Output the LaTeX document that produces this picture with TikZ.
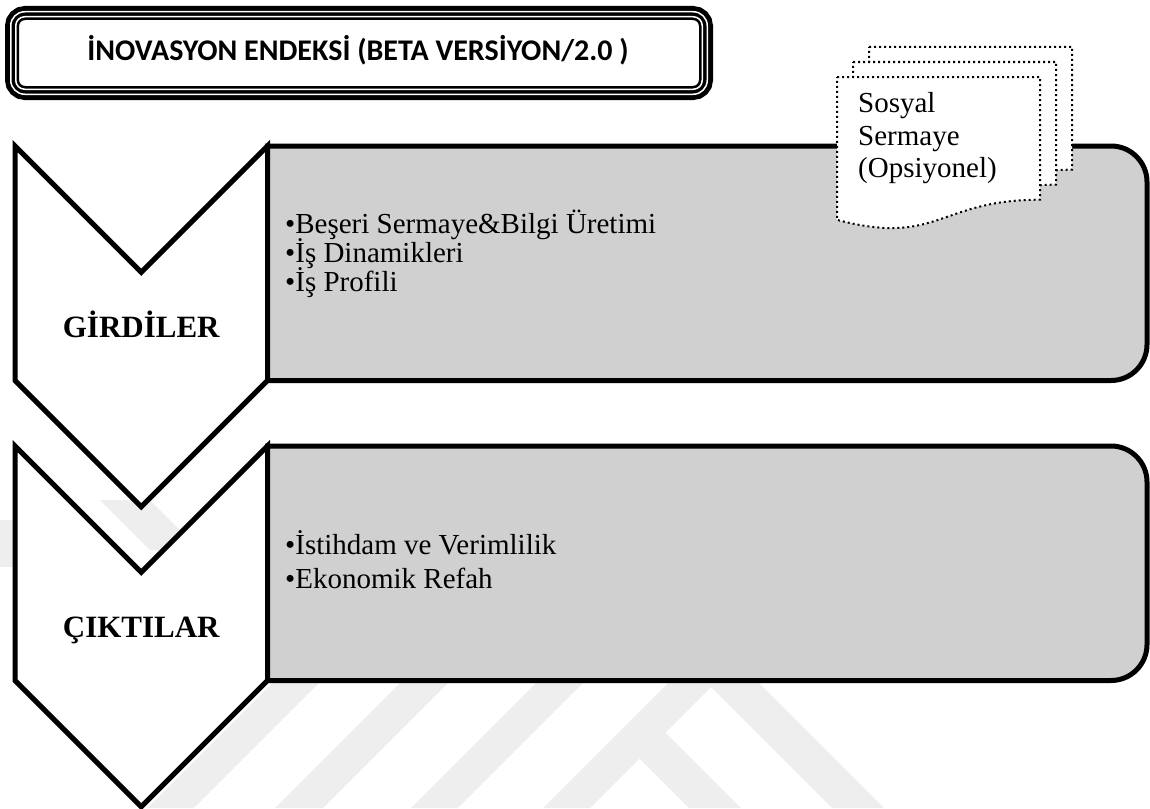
\documentclass[tikz,border=0pt]{standalone}
\usepackage{fontspec}
\setmainfont{Liberation Serif}
\newfontfamily\titlefont{Carlito}
\definecolor{boxgray}{RGB}{208,208,208}
\definecolor{markgray}{RGB}{238,238,238}
\begin{document}
\begin{tikzpicture}[x=1pt,y=-1pt,
  chevron/.style={draw=black, fill=white, line width=5pt},
  panel/.style={draw=black, fill=boxgray, line width=5pt},
  docline/.style={draw=black, fill=white, line width=2pt, dash pattern=on 2pt off 3pt},
  wmark/.style={fill=markgray},
  itemtext/.style={font=\fontsize{29}{29}\selectfont, anchor=base west, inner sep=0pt},
  doctext/.style={font=\fontsize{29}{29}\selectfont, anchor=base west, inner sep=0pt},
  steplabel/.style={font=\fontsize{31}{31}\selectfont\bfseries, anchor=base, inner sep=0pt},
  titletext/.style={font=\titlefont\fontsize{30}{30}\selectfont\bfseries, anchor=base, inner sep=0pt}]
\useasboundingbox (0,0) rectangle (1150,808);

% faint background emblem
\fill[wmark] (147,808) -- (194,808) -- (394,608) -- (347,608) -- cycle;
\fill[wmark] (275,808) -- (323,808) -- (523,608) -- (475,608) -- cycle;
\fill[wmark] (411,808) -- (458,808) -- (658,608) -- (611,608) -- cycle;
\fill[wmark] (543,808) -- (713.5,637.5) -- (884,808) -- (832,808) -- (711,687) -- (590,808) -- cycle;
\fill[wmark] (665.5,732.5) -- (741,808) -- (689,808) -- (639.5,758.5) -- cycle;
\fill[wmark] (100,500) -- (150,500) -- (200,550) -- (150,550) -- cycle;
\fill[wmark] (0,520) -- (25,520) -- (25,567) -- (0,567) -- cycle;

% title frame: thick band split by two thin white lines
\draw[line width=14pt, rounded corners=13] (12,13) rectangle (706,93);
\draw[white, line width=1.5pt, rounded corners=14] (10.75,11.75) rectangle (707.25,94.25);
\draw[white, line width=1.5pt, rounded corners=9] (15.75,16.75) rectangle (702.25,89.25);
\node[titletext] (title) at (358,60) {İNOVASYON ENDEKSİ (BETA VERSİYON/2.0 )};

% step chevrons
\draw[chevron] (15,146) -- (141.25,272.25) -- (267.5,146) -- (267.5,380.5) -- (141.25,506.75) -- (15,380.5) -- cycle;
\draw[chevron] (15,446) -- (141.25,572.25) -- (267.5,446) -- (267.5,680.5) -- (141.25,806.75) -- (15,680.5) -- cycle;

% content panels, rounded on the right
\draw[panel] (267.5,380.5) -- (267.5,146) -- (1111,146)
  .. controls (1130.88,146) and (1147,162.12) .. (1147,182) -- (1147,344.5)
  .. controls (1147,364.38) and (1130.88,380.5) .. (1111,380.5) -- cycle;
\draw[panel] (267.5,680.5) -- (267.5,446) -- (1111,446)
  .. controls (1130.88,446) and (1147,462.12) .. (1147,482) -- (1147,644.5)
  .. controls (1147,664.38) and (1130.88,680.5) .. (1111,680.5) -- cycle;

% stacked documents
\draw[docline] (869,47) -- (1072,47) -- (1072,169.7) .. controls (970.5,169.7) and (970.5,216.5) .. (869,189.9) -- cycle;
\draw[docline] (853,62) -- (1056,62) -- (1056,184.7) .. controls (954.5,184.7) and (954.5,231.5) .. (853,204.9) -- cycle;
\draw[docline] (837,77) -- (1040,77) -- (1040,199.7) .. controls (938.5,199.7) and (938.5,246.5) .. (837,219.9) -- cycle;

\node[doctext] (soc1) at (858,112) {Sosyal};
\node[doctext] (soc2) at (858,145) {Sermaye};
\node[doctext] (soc3) at (858,177) {(Opsiyonel)};

% labels
\node[steplabel] (girdi) at (141.25,337) {GİRDİLER};
\node[steplabel] (cikti) at (141.25,637) {ÇIKTILAR};

\node[itemtext] (in1) at (285,233) {•Beşeri Sermaye\&Bilgi Üretimi};
\node[itemtext] (in2) at (285,262) {•İş Dinamikleri};
\node[itemtext] (in3) at (285,291) {•İş Profili};

\node[itemtext] (out1) at (285,554) {•İstihdam ve Verimlilik};
\node[itemtext] (out2) at (285,588) {•Ekonomik Refah};
\end{tikzpicture}
\end{document}
